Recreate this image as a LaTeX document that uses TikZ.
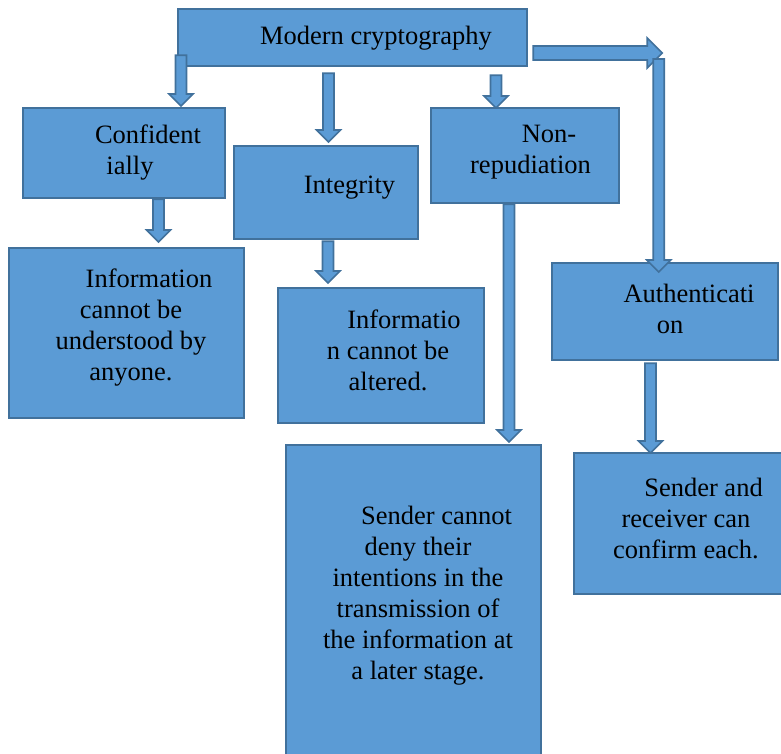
\documentclass[tikz,border=0pt]{standalone}
\usepackage{fontspec}
\setmainfont{Liberation Serif}
\usetikzlibrary{calc}
\definecolor{boxfill}{HTML}{5B9BD5}
\definecolor{boxline}{HTML}{41719C}
\begin{document}
\begin{tikzpicture}[x=1pt,y=-1pt,
  box/.style={draw=boxline,fill=boxfill,line width=2.2pt,rectangle,inner sep=0pt,anchor=north west},
  txt/.style={align=center,inner sep=0pt,font=\fontsize{26.5}{31}\selectfont},
  blkdown/.style={draw=boxline,fill=boxfill,line width=1.6pt,line join=miter,
    to path={let \p1=(\tikztostart), \p2=(\tikztotarget) in
      (\x1-5.5pt,\y1) -- (\x1+5.5pt,\y1) -- (\x1+5.5pt,\y2+12pt) -- (\x1+12pt,\y2+12pt)
      -- (\x1,\y2) -- (\x1-12pt,\y2+12pt) -- (\x1-5.5pt,\y2+12pt) -- cycle}},
  blkright/.style={draw=boxline,fill=boxfill,line width=1.6pt,line join=miter,
    to path={let \p1=(\tikztostart), \p2=(\tikztotarget) in
      (\x1,\y1+7pt) -- (\x1,\y1-7pt) -- (\x2-15pt,\y1-7pt) -- (\x2-15pt,\y1-15pt)
      -- (\x2,\y1) -- (\x2-15pt,\y1+15pt) -- (\x2-15pt,\y1+7pt) -- cycle}}]
\useasboundingbox (0,0) rectangle (781,753);

% boxes
\node[box,minimum width=349pt,minimum height=57pt] (modern) at (177,8) {};
\node[box,minimum width=202pt,minimum height=90pt] (conf) at (22,107) {};
\node[box,minimum width=184pt,minimum height=93pt] (integ) at (233,145) {};
\node[box,minimum width=188pt,minimum height=95pt] (nonrep) at (430,107) {};
\node[box,minimum width=226pt,minimum height=97pt] (auth) at (551,262) {};
\node[box,minimum width=235pt,minimum height=170pt] (info1) at (8,247) {};
\node[box,minimum width=206pt,minimum height=135pt] (info2) at (277,287) {};
\node[box,minimum width=255pt,minimum height=320pt] (sender) at (285,444) {};
\node[box,minimum width=215pt,minimum height=141pt] (sr) at (573,452) {};

% texts
\node[txt] (modernT) at (376,38.5) {Modern cryptography};
\node[txt] (confT) at (130,152.5) {\hspace*{36pt}Confident\\ially};
\node[txt] (integT) at (349.5,187.5) {Integrity};
\node[txt] (nonrepT) at (530.5,152.5) {\hspace*{37pt}Non-\\repudiation};
\node[txt] (authT) at (670,308.5) {\hspace*{38pt}Authenticati\\on};
\node[txt] (info1T) at (131,327.5) {\hspace*{36pt}Information\\cannot be\\understood by\\anyone.};
\node[txt] (info2T) at (388,350.5) {\hspace*{32pt}Informatio\\n cannot be\\altered.};
\node[txt] (senderT) at (418,595.5) {\hspace*{37pt}Sender cannot\\deny their\\intentions in the\\transmission of\\the information at\\a later stage.};
\node[txt] (srT) at (686,518.5) {\hspace*{35pt}Sender and\\receiver can\\confirm each.};

% block arrows
\coordinate (a1s) at ($(modern.south west)+(4,-12)$);
\coordinate (a1e) at ($(conf.north west)+(159,-1)$);
\draw[blkdown] (a1s) to (a1e);
\coordinate (a2s) at ($(modern.south west)+(151.5,6)$);
\coordinate (a2e) at ($(integ.north west)+(95.5,-3)$);
\draw[blkdown] (a2s) to (a2e);
\coordinate (a3s) at ($(modern.south west)+(319,8)$);
\coordinate (a3e) at ($(nonrep.north west)+(66,1)$);
\draw[blkdown] (a3s) to (a3e);
\coordinate (a4s) at ($(modern.north east)+(5,45)$);
\coordinate (a4e) at ($(modern.north east)+(134,45)$);
\draw[blkright] (a4s) to (a4e);
\coordinate (a5s) at ($(modern.north east)+(130.5,51)$);
\coordinate (a5e) at ($(auth.north west)+(105.5,10)$);
\draw[blkdown] (a5s) to (a5e);
\coordinate (a6s) at ($(conf.south west)+(136.5,0)$);
\coordinate (a6e) at ($(info1.north west)+(150.5,-5)$);
\draw[blkdown] (a6s) to (a6e);
\coordinate (a7s) at ($(integ.south west)+(95,1)$);
\coordinate (a7e) at ($(info2.north west)+(51,-4)$);
\draw[blkdown] (a7s) to (a7e);
\coordinate (a8s) at ($(nonrep.south west)+(79,0)$);
\coordinate (a8e) at ($(sender.north west)+(224,-2)$);
\draw[blkdown] (a8s) to (a8e);
\coordinate (a9s) at ($(auth.south west)+(99.5,2)$);
\coordinate (a9e) at ($(sr.north west)+(77.5,1)$);
\draw[blkdown] (a9s) to (a9e);
\end{tikzpicture}
\end{document}
